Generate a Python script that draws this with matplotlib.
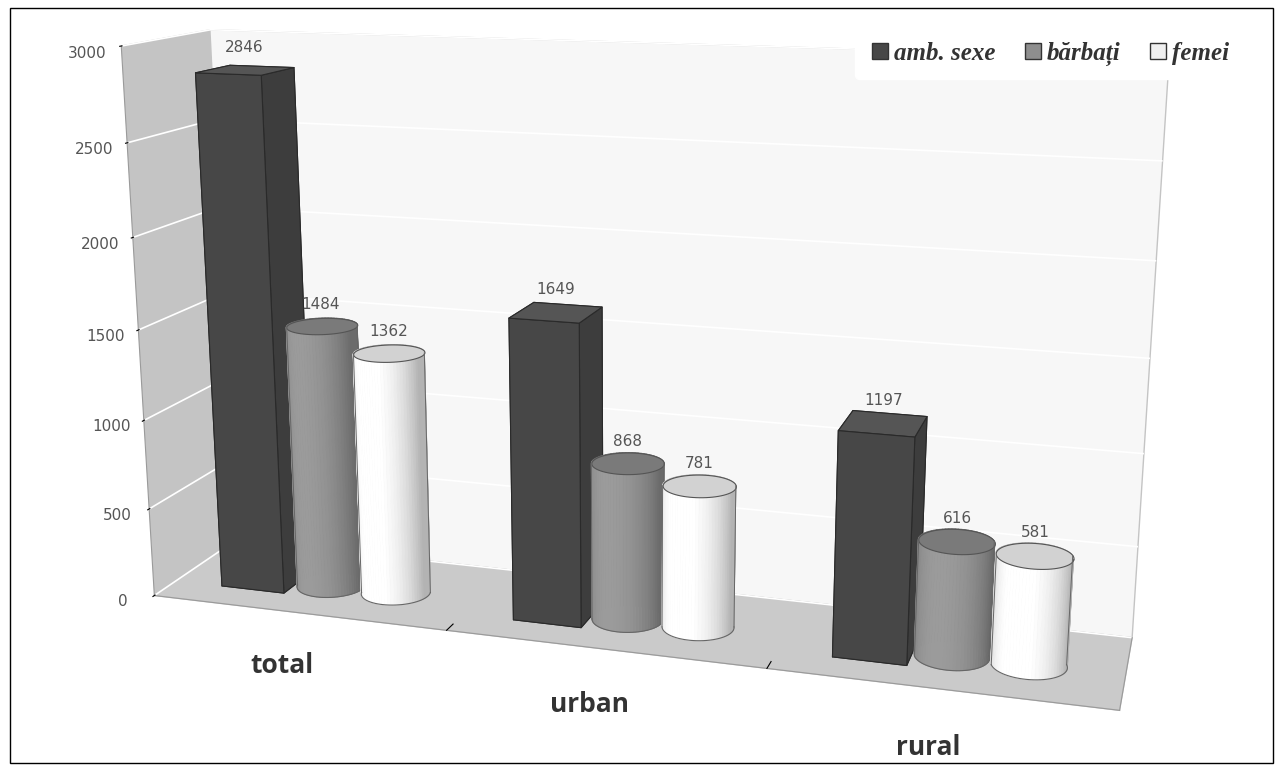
import numpy as np
import matplotlib
matplotlib.use("Agg")
import matplotlib.pyplot as plt
from matplotlib.patches import Rectangle
from matplotlib.lines import Line2D
from matplotlib.colors import to_rgb
from mpl_toolkits.mplot3d.art3d import Poly3DCollection

# ---- data ----
categories = ["total", "urban", "rural"]
series_names = ["amb. sexe", "bărbați", "femei"]
amb_sexe = [2846, 1649, 1197]
barbati = [1484, 868, 616]
femei = [1362, 781, 581]
yticks = [0, 500, 1000, 1500, 2000, 2500, 3000]

# ---- style ----
box_faces = ["#444444", "#555555", "#474747", "#474747", "#474747", "#3d3d3d"]
c_box_edge = "#2a2a2a"
c_barb = "#949494"
c_barb_top = "#7a7a7a"
c_fem = "#f8f8f8"
c_fem_top = "#d2d2d2"

ELEV, AZIM = 14, -73

fig = plt.figure(figsize=(12.82, 7.72), dpi=100)
ax = fig.add_axes([-0.068, -0.041, 1.1, 1.16], projection="3d", computed_zorder=False)

W = 0.22          # bar width (x units)
OFF = 0.225       # offset between series in a group
YC = 0.25         # bar depth position
xs = np.arange(len(categories))

ax.set_xlim(-0.5, len(categories) - 0.5)
ax.set_ylim(0, 0.55)
ax.set_zlim(0, 3000)
ax.set_box_aspect((3, 0.55, 1.74), zoom=1.27)
ax.set_proj_type("persp", focal_length=0.42)
ax.view_init(elev=ELEV, azim=AZIM)

# panes
ax.xaxis.set_pane_color("#c4c4c4")   # left wall (x = min)
ax.yaxis.set_pane_color("#f7f7f7")   # back wall
ax.zaxis.set_pane_color("#cacaca")   # floor
for a in (ax.xaxis, ax.yaxis, ax.zaxis):
    a.pane.set_edgecolor("#c4c4c4")
    a.line.set_color("#9a9a9a")
    a.label.set_visible(False)
ax.xaxis._axinfo["grid"]["color"] = (1, 1, 1, 0)
ax.yaxis._axinfo["grid"]["color"] = (1, 1, 1, 0)
ax.zaxis._axinfo["grid"]["color"] = (1, 1, 1, 1)
ax.zaxis._axinfo["grid"]["linewidth"] = 1.2

ax.set_zticks(yticks)
ax.set_zticklabels([str(v) for v in yticks], fontsize=11, color="#555555", family="DejaVu Sans")
ax.zaxis.set_ticks_position("lower")
ax.set_yticks([])
ax.set_xticks([0.5, 1.5])
ax.set_xticklabels(["", ""])
ax.xaxis.set_tick_params(labelsize=0)
for t in ax.xaxis.get_ticklabels():
    t.set_visible(False)
ax.zaxis._axinfo["tick"]["color"] = "#9a9a9a"
ax.xaxis._axinfo["tick"]["color"] = "#9a9a9a"
ax.xaxis._axinfo["tick"]["outward_factor"] = 1.2
ax.xaxis._axinfo["tick"]["inward_factor"] = 0.0

z_order = 10
LIGHT = np.array([-0.25, -1.0]) / np.hypot(0.25, 1.0)
TH_S = np.deg2rad(AZIM + 90)   # silhouette angle of cylinders

def draw_box(xc, h):
    global z_order
    b = ax.bar3d(xc - W / 2, YC - W / 2, 0, W, W, h, color=box_faces, edgecolor=c_box_edge,
                 linewidth=0.8, shade=False, zorder=z_order)
    b.set_clip_on(False)
    z_order += 1

def draw_cyl(xc, h, col, topcol):
    global z_order
    n = 72
    th = np.linspace(0, 2 * np.pi, n + 1)
    px = xc + W / 2 * np.cos(th)
    py = YC + W / 2 * np.sin(th)
    verts, cols = [], []
    base = np.array(to_rgb(col))
    for k in range(n):
        verts.append([(px[k], py[k], 0), (px[k + 1], py[k + 1], 0),
                      (px[k + 1], py[k + 1], h), (px[k], py[k], h)])
        tm = 0.5 * (th[k] + th[k + 1])
        d = max(0.0, np.cos(tm) * LIGHT[0] + np.sin(tm) * LIGHT[1])
        f = 0.72 + 0.33 * d
        cols.append(tuple(np.clip(base * f, 0, 1)))
    side = Poly3DCollection(verts, facecolors=cols, edgecolors=cols, linewidths=0.6,
                            zorder=z_order)
    side.set_clip_on(False)
    ax.add_collection3d(side)
    z_order += 1
    top = Poly3DCollection([list(zip(px, py, np.full_like(px, h)))], facecolors=topcol,
                           edgecolors="#555555", linewidths=0.8, zorder=z_order)
    top.set_clip_on(False)
    ax.add_collection3d(top)
    z_order += 1
    ta = np.linspace(TH_S + np.pi, TH_S + 2 * np.pi, 40)
    ln, = ax.plot(xc + W / 2 * np.cos(ta), YC + W / 2 * np.sin(ta), np.zeros_like(ta),
                  color="#666666", lw=0.8, zorder=z_order)
    ln.set_clip_on(False)
    for a0 in (TH_S, TH_S + np.pi):
        ln, = ax.plot([xc + W / 2 * np.cos(a0)] * 2, [YC + W / 2 * np.sin(a0)] * 2, [0, h],
                      color="#666666", lw=0.7, zorder=z_order)
        ln.set_clip_on(False)
    z_order += 1

for i, xc in enumerate(xs):
    draw_box(xc - OFF, amb_sexe[i])
    draw_cyl(xc, barbati[i], c_barb, c_barb_top)
    draw_cyl(xc + OFF, femei[i], c_fem, c_fem_top)
    for dx, v in zip((-OFF, 0, OFF), (amb_sexe[i], barbati[i], femei[i])):
        ax.text(xc + dx, YC, v + 120, str(v), ha="center", va="center", fontsize=11,
                color="#555555", zorder=100)
    ax.text(xc - 0.01, -0.1, -235, categories[i], ha="center", va="center", fontsize=19,
            fontweight="bold", family="Open Sans", color="#333333", zorder=100)

# legend
handles = [Line2D([], [], marker="s", ls="", markersize=12, markerfacecolor=c,
                  markeredgecolor="#333333") for c in ("#474747", "#8e8e8e", "#f0f0f0")]
leg = fig.legend(handles, series_names, loc="upper right", bbox_to_anchor=(0.978, 0.978),
                 ncol=3, frameon=True, handletextpad=0.05, columnspacing=1.0,
                 handlelength=1.0, borderpad=0.5,
                 prop={"family": "Liberation Serif", "style": "italic", "weight": "bold",
                       "size": 18})
leg.get_frame().set_facecolor("white")
leg.get_frame().set_edgecolor("white")
leg.get_frame().set_alpha(1)
for t in leg.get_texts():
    t.set_color("#333333")

# border
fig.patches.append(Rectangle((0.008, 0.012), 0.985, 0.978, transform=fig.transFigure,
                             fill=False, edgecolor="black", linewidth=1))

fig.savefig("out.png", dpi=100)
